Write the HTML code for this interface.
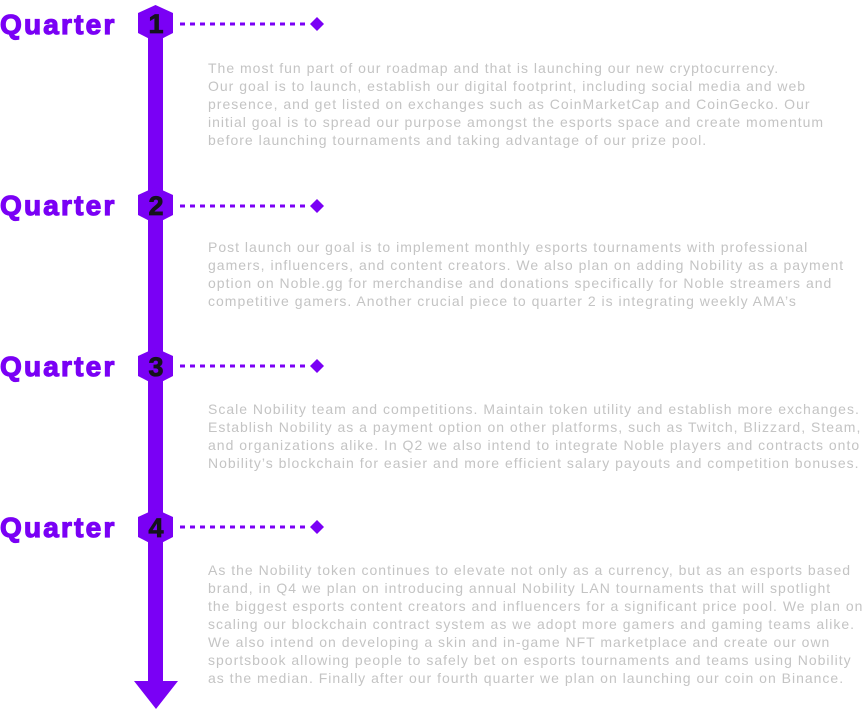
<!DOCTYPE html>
<html><head><style>
body{margin:0;width:866px;height:709px;background:#fff;position:relative;overflow:hidden;font-family:"Liberation Sans",sans-serif}
.q{position:absolute;left:0;font-size:28px;font-weight:bold;color:#7a00f5;letter-spacing:2.2px;-webkit-text-stroke:1.2px #7a00f5;line-height:1}
.t{position:absolute;left:208px;font-size:14px;line-height:18px;color:#c4c4c4;white-space:nowrap;letter-spacing:1px}
</style></head><body>
<svg width="866" height="709" style="position:absolute;left:0;top:0">
<rect x="148" y="20" width="15" height="665" fill="#7a00f5"/>
<polygon points="134,681 178,681 156,709" fill="#7a00f5"/>
<g fill="#7a00f5">
<polygon points="155.5,5 173,13 173,33 155.5,42 138,33 138,13"/>
<polygon points="155.5,187 173,195 173,215 155.5,224 138,215 138,195"/>
<polygon points="155.5,348 173,356 173,376 155.5,385 138,376 138,356"/>
<polygon points="155.5,509 173,517 173,537 155.5,546 138,537 138,517"/>
<polygon points="317,17 324,24 317,31 310,24"/>
<polygon points="317,199 324,206 317,213 310,206"/>
<polygon points="317,359 324,366 317,373 310,366"/>
<polygon points="317,520 324,527 317,534 310,527"/>
</g>
<g stroke="#7a00f5" stroke-width="3" stroke-dasharray="5,5">
<line x1="180" y1="24" x2="310" y2="24"/>
<line x1="180" y1="206" x2="310" y2="206"/>
<line x1="180" y1="366" x2="310" y2="366"/>
<line x1="180" y1="527" x2="310" y2="527"/>
</g>
<g font-family="Liberation Sans" font-weight="bold" font-size="27" fill="#15131c" stroke="#15131c" stroke-width="0.8" text-anchor="middle">
<text x="156" y="33">1</text><text x="156" y="215">2</text><text x="156" y="376">3</text><text x="156" y="537">4</text>
</g>
</svg>
<div class="q" style="top:11px">Quarter</div>
<div class="q" style="top:192px">Quarter</div>
<div class="q" style="top:353px">Quarter</div>
<div class="q" style="top:514px">Quarter</div>
<div class="t" style="top:59px">The most fun part of our roadmap and that is launching our new cryptocurrency.<br>Our goal is to launch, establish our digital footprint, including social media and web<br>presence, and get listed on exchanges such as CoinMarketCap and CoinGecko. Our<br>initial goal is to spread our purpose amongst the esports space and create momentum<br>before launching tournaments and taking advantage of our prize pool.</div>
<div class="t" style="top:238px">Post launch our goal is to implement monthly esports tournaments with professional<br>gamers, influencers, and content creators. We also plan on adding Nobility as a payment<br>option on Noble.gg for merchandise and donations specifically for Noble streamers and<br>competitive gamers. Another crucial piece to quarter 2 is integrating weekly AMA’s</div>
<div class="t" style="top:400px">Scale Nobility team and competitions. Maintain token utility and establish more exchanges.<br>Establish Nobility as a payment option on other platforms, such as Twitch, Blizzard, Steam,<br>and organizations alike. In Q2 we also intend to integrate Noble players and contracts onto<br>Nobility’s blockchain for easier and more efficient salary payouts and competition bonuses.</div>
<div class="t" style="top:561px">As the Nobility token continues to elevate not only as a currency, but as an esports based<br>brand, in Q4 we plan on introducing annual Nobility LAN tournaments that will spotlight<br>the biggest esports content creators and influencers for a significant price pool. We plan on<br>scaling our blockchain contract system as we adopt more gamers and gaming teams alike.<br>We also intend on developing a skin and in-game NFT marketplace and create our own<br>sportsbook allowing people to safely bet on esports tournaments and teams using Nobility<br>as the median. Finally after our fourth quarter we plan on launching our coin on Binance.</div>
</body></html>
